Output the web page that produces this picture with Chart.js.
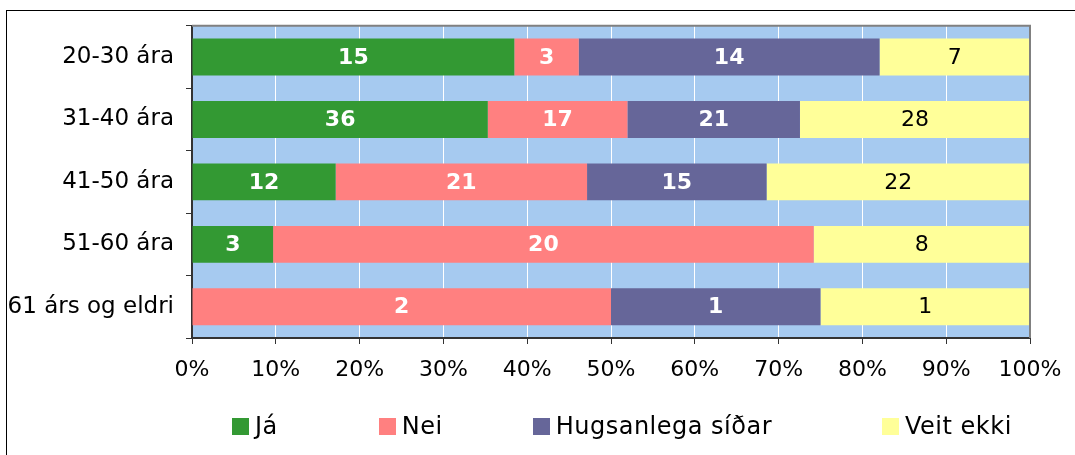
<!DOCTYPE html>
<html>
<head>
<meta charset="utf-8">
<script src="https://cdn.jsdelivr.net/npm/chart.js@4.4.0/dist/chart.umd.min.js"></script>
<style>
  body { margin: 0; background: #fff; overflow: hidden; font-family: "DejaVu Sans", Verdana, sans-serif; }
  #frame { position: absolute; left: 6px; top: 10px; width: 1200px; height: 600px; border: 1px solid #000; }
  #wrap { position: absolute; left: 0; top: 0; width: 1075px; height: 455px; }
  #legend { position: absolute; left: 232px; top: 412px; display: flex; font-size: 24px; letter-spacing: 0.5px; color: #000; }
  #legend .item { display: flex; align-items: center; }
  #legend .box { width: 17px; height: 17px; margin-right: 6px; }
  #legend .item:nth-child(1) { margin-right: 101px; }
  #legend .item:nth-child(2) { margin-right: 90px; }
  #legend .item:nth-child(3) { margin-right: 110px; }
</style>
</head>
<body>
<div id="frame"></div>
<div id="wrap"><canvas id="myChart" width="1075" height="455"></canvas></div>
<div id="legend"></div>
<script>
const categories = ['20-30 ára', '31-40 ára', '41-50 ára', '51-60 ára', '61 árs og eldri'];
const seriesNames = ['Já', 'Nei', 'Hugsanlega síðar', 'Veit ekki'];
const ja = [15, 36, 12, 3, 0];
const nei = [3, 17, 21, 20, 2];
const sidar = [14, 21, 15, 0, 1];
const veitEkki = [7, 28, 22, 8, 1];
const colors = ['#339933', '#FF8080', '#666699', '#FFFF99'];
const labelColors = ['#fff', '#fff', '#fff', '#000'];

const counts = [ja, nei, sidar, veitEkki];
const totals = categories.map((c, i) => counts.reduce((s, arr) => s + arr[i], 0));

const font = '"DejaVu Sans", Verdana, sans-serif';

// blue plot background, grey top/right frame and the count labels inside the bars
const plotDecor = {
  id: 'plotDecor',
  beforeDraw(chart) {
    const {ctx, chartArea: a} = chart;
    ctx.save();
    ctx.fillStyle = '#A6CAF0';
    ctx.fillRect(a.left, a.top, a.right - a.left, a.bottom - a.top);
    ctx.restore();
  },
  afterDatasetsDraw(chart) {
    const {ctx, chartArea: a} = chart;
    ctx.save();
    ctx.strokeStyle = '#808080';
    ctx.lineWidth = 2;
    ctx.beginPath();
    ctx.moveTo(a.left, a.top);
    ctx.lineTo(a.right, a.top);
    ctx.lineTo(a.right, a.bottom);
    ctx.stroke();

    ctx.textAlign = 'center';
    ctx.textBaseline = 'middle';
    chart.data.datasets.forEach((ds, d) => {
      const meta = chart.getDatasetMeta(d);
      ctx.fillStyle = labelColors[d];
      ctx.font = (d < 3 ? 'bold ' : '') + '22px ' + font;
      meta.data.forEach((bar, i) => {
        const n = ds.counts[i];
        if (!n) return;
        ctx.fillText(String(n), (bar.x + bar.base) / 2, bar.y + 1);
      });
    });
    ctx.restore();
  }
};

const ctx = document.getElementById('myChart');
const myChart = new Chart(ctx, {
  type: 'bar',
  data: {
    labels: categories,
    datasets: seriesNames.map((name, d) => ({
      label: name,
      counts: counts[d],
      data: counts[d].map((v, i) => v / totals[i] * 100),
      backgroundColor: colors[d],
      borderWidth: 0,
      categoryPercentage: 1,
      barPercentage: 0.59
    }))
  },
  plugins: [plotDecor],
  options: {
    indexAxis: 'y',
    responsive: false,
    animation: false,
    layout: { padding: { top: 24, right: 45, left: 0, bottom: 0 } },
    scales: {
      x: {
        stacked: true,
        min: 0,
        max: 100,
        ticks: {
          stepSize: 10,
          callback: v => v + '%',
          color: '#000',
          font: { family: font, size: 22 },
          padding: 13
        },
        grid: { color: '#fff', tickColor: '#333', tickLength: 6 },
        border: { color: '#333', width: 2 },
        afterFit: s => { s.height = 117; }
      },
      y: {
        stacked: true,
        ticks: {
          color: '#000',
          font: { family: font, size: 23 },
          padding: 12
        },
        grid: { drawOnChartArea: false, tickColor: '#333', tickLength: 6, offset: true },
        border: { color: '#333', width: 2 },
        afterFit: s => { s.width = 192; }
      }
    },
    plugins: {
      legend: { display: false },
      tooltip: { enabled: false }
    }
  }
});

// legend row under the chart
const legend = document.getElementById('legend');
seriesNames.forEach((name, d) => {
  const item = document.createElement('div');
  item.className = 'item';
  const box = document.createElement('span');
  box.className = 'box';
  box.style.background = colors[d];
  const txt = document.createElement('span');
  txt.textContent = name;
  item.appendChild(box);
  item.appendChild(txt);
  legend.appendChild(item);
});
</script>
</body>
</html>
